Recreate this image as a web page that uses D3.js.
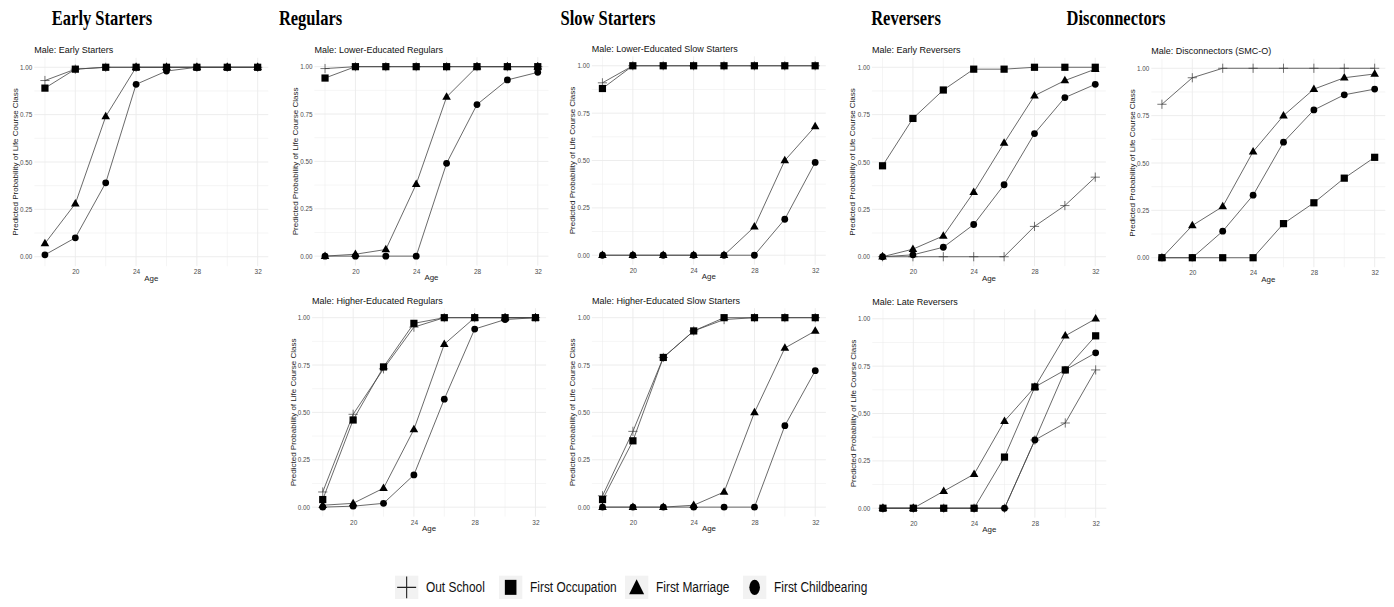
<!DOCTYPE html>
<html>
<head>
<meta charset="utf-8">
<script src="https://cdn.jsdelivr.net/npm/d3@7"></script>
<style>
  html, body { margin: 0; padding: 0; background: #ffffff; }
  svg { display: block; }
</style>
</head>
<body>
<svg id="chart" width="1394" height="607"></svg>
<script>
// ---- data -------------------------------------------------------------
const ages = [18, 20, 22, 24, 26, 28, 30, 32];
const eventNames = ["Out School", "First Occupation", "First Marriage", "First Childbearing"];
const columnHeaders = ["Early Starters", "Regulars", "Slow Starters", "Reversers", "Disconnectors"];
const panelTitles = [
  "Male: Early Starters",
  "Male: Lower-Educated Regulars",
  "Male: Lower-Educated Slow Starters",
  "Male: Early Reversers",
  "Male: Disconnectors (SMC-O)",
  "Male: Higher-Educated Regulars",
  "Male: Higher-Educated Slow Starters",
  "Male: Late Reversers"
];
const xTickValues = [20, 24, 28, 32];
const yTickValues = [0, 0.25, 0.5, 0.75, 1];
const yTickLabels = ["0.00", "0.25", "0.50", "0.75", "1.00"];

// predicted probabilities by age, one row per event:
// [out school, first occupation, first marriage, first childbearing]
const earlyStarters = [
  [0.93, 0.99, 1, 1, 1, 1, 1, 1],
  [0.89, 0.99, 1, 1, 1, 1, 1, 1],
  [0.07, 0.28, 0.74, 1, 1, 1, 1, 1],
  [0.01, 0.10, 0.39, 0.91, 0.98, 1, 1, 1]
];
const lowerEduRegulars = [
  [0.99, 1, 1, 1, 1, 1, 1, 1],
  [0.94, 1, 1, 1, 1, 1, 1, 1],
  [0, 0.01, 0.035, 0.38, 0.84, 1, 1, 1],
  [0, 0, 0, 0, 0.49, 0.80, 0.93, 0.97]
];
const lowerEduSlowStarters = [
  [0.91, 1, 1, 1, 1, 1, 1, 1],
  [0.88, 1, 1, 1, 1, 1, 1, 1],
  [0, 0, 0, 0, 0, 0.15, 0.50, 0.68],
  [0, 0, 0, 0, 0, 0, 0.19, 0.49]
];
const earlyReversers = [
  [0, 0, 0, 0, 0, 0.16, 0.27, 0.42],
  [0.48, 0.73, 0.88, 0.99, 0.99, 1, 1, 1],
  [0, 0.04, 0.11, 0.34, 0.60, 0.85, 0.93, 0.99],
  [0, 0.01, 0.05, 0.17, 0.38, 0.65, 0.84, 0.91]
];
const disconnectors = [
  [0.81, 0.95, 1, 1, 1, 1, 1, 1],
  [0, 0, 0, 0, 0.18, 0.29, 0.42, 0.53],
  [0, 0.17, 0.27, 0.56, 0.75, 0.89, 0.95, 0.97],
  [0, 0, 0.14, 0.33, 0.61, 0.78, 0.86, 0.89]
];
const higherEduRegulars = [
  [0.08, 0.49, 0.73, 0.95, 1, 1, 1, 1],
  [0.04, 0.46, 0.74, 0.97, 1, 1, 1, 1],
  [0.01, 0.02, 0.10, 0.41, 0.86, 1, 1, 1],
  [0, 0.005, 0.02, 0.17, 0.57, 0.94, 0.99, 1]
];
const higherEduSlowStarters = [
  [0.06, 0.40, 0.79, 0.93, 0.99, 1, 1, 1],
  [0.04, 0.35, 0.79, 0.93, 1, 1, 1, 1],
  [0, 0, 0, 0.01, 0.08, 0.50, 0.84, 0.93],
  [0, 0, 0, 0, 0, 0, 0.43, 0.72]
];
const lateReversers = [
  [0, 0, 0, 0, 0, 0.36, 0.45, 0.73],
  [0, 0, 0, 0, 0.27, 0.64, 0.73, 0.91],
  [0, 0, 0.09, 0.18, 0.46, 0.64, 0.91, 1],
  [0, 0, 0, 0, 0, 0.36, 0.73, 0.82]
];

const classSeries = [
  earlyStarters, lowerEduRegulars, lowerEduSlowStarters, earlyReversers,
  disconnectors, higherEduRegulars, higherEduSlowStarters, lateReversers
];

// ---- layout -----------------------------------------------------------
// top-left corner of each panel's plotting area
const panelOrigins = [
  [34.3, 57.8], [314.4, 57.2], [591.8, 56.3], [871.9, 57.8], [1151.3, 58.8],
  [312.1, 308.2], [591.9, 308.2], [872.3, 309.3]
];
const panelW = 234, panelH = 208.4;
const headerCenters = [102, 310.5, 608, 906, 1116];
const legendKeyX = [395, 499, 625, 743];
const legendTop = 575.7, legendKey = 23.3;

const sansFont = "'Liberation Sans', Arial, Helvetica, sans-serif";
const serifFont = "'Liberation Serif', 'Times New Roman', serif";

const svg = d3.select("#chart");
svg.append("rect").attr("width", 1394).attr("height", 607).attr("fill", "#ffffff");

// squeeze a text element horizontally to a fraction of its natural width
function condense(sel, k) {
  sel.each(function () {
    const w = this.getComputedTextLength();
    d3.select(this).attr("textLength", w * k).attr("lengthAdjust", "spacingAndGlyphs");
  });
}

// marker shapes, centred on 0,0
const markerDraw = [
  g => g.append("path").attr("d", "M-4.6,0H4.6M0,-4.6V4.6")
        .attr("stroke", "#3a3a3a").attr("stroke-width", 0.7).attr("fill", "none"),
  g => g.append("rect").attr("x", -3.6).attr("y", -3.6).attr("width", 7.2).attr("height", 7.2)
        .attr("fill", "#000"),
  g => g.append("path").attr("d", "M0,-4.7L4.3,2.8L-4.3,2.8Z").attr("fill", "#000"),
  g => g.append("circle").attr("r", 3.4).attr("fill", "#000")
];

// ---- column headers ---------------------------------------------------
svg.append("g").selectAll("text").data(columnHeaders).join("text")
  .attr("x", (d, i) => headerCenters[i])
  .attr("y", 25)
  .attr("text-anchor", "middle")
  .attr("font-family", serifFont)
  .attr("font-weight", "bold")
  .attr("font-size", 22)
  .attr("fill", "#000")
  .text(d => d)
  .call(condense, 0.75);

// ---- panels -----------------------------------------------------------
classSeries.forEach((series, p) => {
  const [left, top] = panelOrigins[p];
  const x = d3.scaleLinear().domain([17.3, 32.7]).range([left, left + panelW]);
  const y = d3.scaleLinear().domain([-0.05, 1.05]).range([top + panelH, top]);
  const g = svg.append("g");

  // grid
  const minorX = ages.filter(a => !xTickValues.includes(a));
  const minorY = [0.125, 0.375, 0.625, 0.875];
  const grid = g.append("g").attr("stroke", "#ebebeb");
  grid.selectAll(".mx").data(minorX).join("line")
    .attr("x1", d => x(d)).attr("x2", d => x(d))
    .attr("y1", top).attr("y2", top + panelH).attr("stroke-width", 0.5);
  grid.selectAll(".my").data(minorY).join("line")
    .attr("x1", left).attr("x2", left + panelW)
    .attr("y1", d => y(d)).attr("y2", d => y(d)).attr("stroke-width", 0.5);
  grid.selectAll(".Mx").data(xTickValues).join("line")
    .attr("x1", d => x(d)).attr("x2", d => x(d))
    .attr("y1", top).attr("y2", top + panelH).attr("stroke-width", 0.9);
  grid.selectAll(".My").data(yTickValues).join("line")
    .attr("x1", left).attr("x2", left + panelW)
    .attr("y1", d => y(d)).attr("y2", d => y(d)).attr("stroke-width", 0.9);

  // axes
  const xAxis = g.append("g").attr("transform", `translate(0,${top + panelH})`)
    .call(d3.axisBottom(x).tickValues(xTickValues).tickSize(0).tickPadding(3.4));
  const yAxis = g.append("g").attr("transform", `translate(${left},0)`)
    .call(d3.axisLeft(y).tickValues(yTickValues).tickSize(0).tickPadding(2)
      .tickFormat((d, i) => yTickLabels[i]));
  [xAxis, yAxis].forEach(a => {
    a.select(".domain").remove();
    a.selectAll("text").attr("font-family", sansFont).attr("fill", "#4d4d4d");
  });
  xAxis.selectAll("text").attr("font-size", 6.5);
  yAxis.selectAll("text").attr("font-size", 6.3);

  // titles
  g.append("text").attr("x", left).attr("y", top - 4.5)
    .attr("font-family", sansFont).attr("font-size", 9).attr("fill", "#111")
    .text(panelTitles[p]);
  g.append("text").attr("x", left + panelW / 2).attr("y", top + panelH + 14.5)
    .attr("text-anchor", "middle").attr("font-family", sansFont)
    .attr("font-size", 7.9).attr("fill", "#222").text("Age");
  g.append("text")
    .attr("transform", `translate(${left - 19.3},${top + panelH / 2}) rotate(-90)`)
    .attr("dy", "0.35em").attr("text-anchor", "middle")
    .attr("font-family", sansFont).attr("font-size", 8).attr("fill", "#222")
    .text("Predicted Probability of Life Course Class");

  // lines
  const line = d3.line().x((d, i) => x(ages[i])).y(d => y(d));
  g.append("g").selectAll("path").data(series).join("path")
    .attr("d", line).attr("fill", "none")
    .attr("stroke", "#444").attr("stroke-width", 0.8);

  // points
  series.forEach((vals, e) => {
    const mg = g.append("g");
    vals.forEach((v, i) => {
      const m = mg.append("g").attr("transform", `translate(${x(ages[i])},${y(v)})`);
      markerDraw[e](m);
    });
  });
});

// ---- legend -----------------------------------------------------------
const legendSymbols = [
  k => k.append("path").attr("d", "M-9.5,0H9.5M0,-10.8V10.8")
        .attr("stroke", "#222").attr("stroke-width", 1.1).attr("fill", "none"),
  k => k.append("rect").attr("x", -5.8).attr("y", -7.5).attr("width", 11.6).attr("height", 15)
        .attr("fill", "#000"),
  k => k.append("path").attr("d", "M0,-8L7.5,7L-7.5,7Z").attr("fill", "#000"),
  k => k.append("ellipse").attr("rx", 5.3).attr("ry", 7.6).attr("fill", "#000")
];
const legend = svg.append("g");
eventNames.forEach((name, i) => {
  const kx = legendKeyX[i];
  legend.append("rect").attr("x", kx).attr("y", legendTop)
    .attr("width", legendKey).attr("height", legendKey).attr("fill", "#f2f2f2");
  const k = legend.append("g")
    .attr("transform", `translate(${kx + legendKey / 2},${legendTop + legendKey / 2})`);
  legendSymbols[i](k);
  legend.append("text").attr("x", kx + legendKey + 7.7).attr("y", legendTop + legendKey / 2 + 5)
    .attr("font-family", sansFont).attr("font-size", 14).attr("fill", "#111")
    .text(name)
    .call(condense, 0.85);
});
</script>
</body>
</html>
